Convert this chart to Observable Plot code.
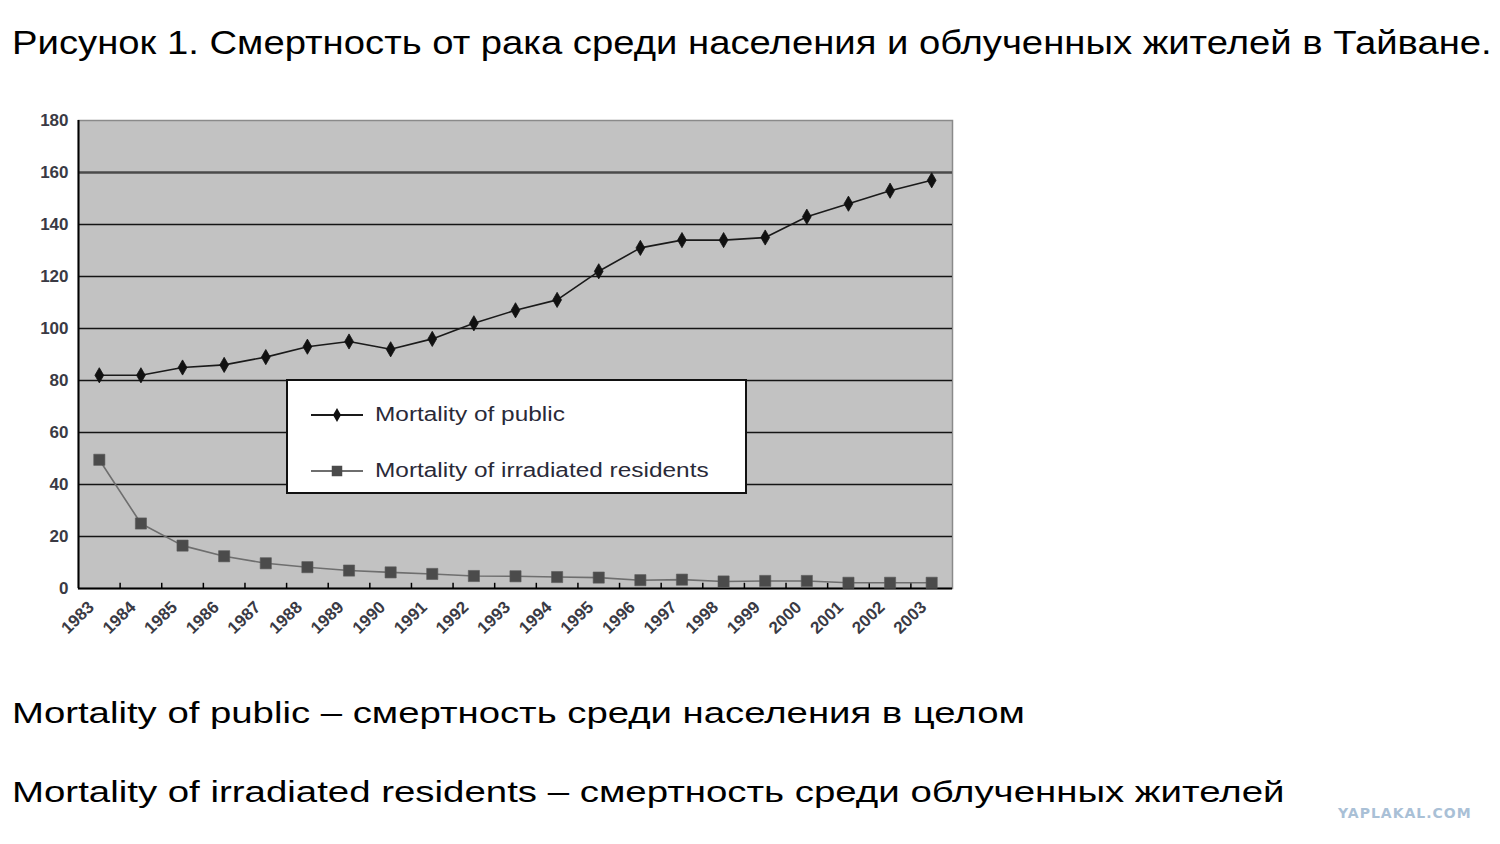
<!DOCTYPE html>
<html>
<head>
<meta charset="utf-8">
<script src="https://cdn.jsdelivr.net/npm/d3@7"></script>
<script src="https://cdn.jsdelivr.net/npm/@observablehq/plot@0.6"></script>
<style>
  html, body { margin: 0; padding: 0; background: #fff; }
  body { width: 1500px; height: 844px; position: relative; overflow: hidden;
         font-family: "Liberation Sans", Arial, sans-serif; }
  .txt { position: absolute; left: 12px; white-space: nowrap; line-height: 1; color: #000;
         transform-origin: 0 0; }
  #title { top: 26px; font-size: 33.5px; transform: scaleX(1.142); }
  #cap1 { top: 697.6px; font-size: 30px; transform: scaleX(1.277); }
  #cap2 { top: 776.6px; font-size: 30px; transform: scaleX(1.28); }
  #chart { position: absolute; left: 0; top: 100px; }
  #legend { position: absolute; left: 286px; top: 379px; width: 457px; height: 111px;
            background: #fff; border: 2px solid #111; box-sizing: content-box; }
  .lg-row { position: absolute; left: 22px; display: flex; align-items: center; }
  .lg-row span { display: inline-block; font-size: 20px; color: #2a2a38; margin-left: 11px;
                 transform: scaleX(1.22); transform-origin: 0 50%; }
  #wm { position: absolute; left: 1338px; top: 806px; font-family: "DejaVu Sans", sans-serif;
        font-weight: bold; font-size: 14px; color: #a9c0d6; letter-spacing: 1px; line-height: 1; }
</style>
</head>
<body>
<div id="title" class="txt">Рисунок 1. Смертность от рака среди населения и облученных жителей в Тайване.</div>
<div id="chart"></div>
<div id="legend"></div>
<div id="cap1" class="txt">Mortality of public – смертность среди населения в целом</div>
<div id="cap2" class="txt">Mortality of irradiated residents – смертность среди облученных жителей</div>
<div id="wm">YAPLAKAL.COM</div>
<script>
// ---- data ----
const years = [1983, 1984, 1985, 1986, 1987, 1988, 1989, 1990, 1991, 1992, 1993,
               1994, 1995, 1996, 1997, 1998, 1999, 2000, 2001, 2002, 2003];
const publicMortality = [82, 82, 85, 86, 89, 93, 95, 92, 96, 102, 107,
                         111, 122, 131, 134, 134, 135, 143, 148, 153, 157];
const irradiatedMortality = [49.5, 25, 16.5, 12.4, 9.7, 8.2, 6.9, 6.2, 5.6, 4.8, 4.7,
                             4.4, 4.2, 3.2, 3.4, 2.7, 2.9, 2.9, 2.2, 2.2, 2.2];
const yTicks = [0, 20, 40, 60, 80, 100, 120, 140, 160, 180];
const gridValues = [20, 40, 60, 80, 100, 120, 140, 160];
const seriesNames = ["Mortality of public", "Mortality of irradiated residents"];

// ---- derived tables ----
const pub = years.map((y, i) => ({year: y, value: publicMortality[i]}));
const irr = years.map((y, i) => ({year: y, value: irradiatedMortality[i]}));
const xDomain = [years[0] - 0.5, years[years.length - 1] + 0.5];
const boundaries = years.slice(1).map(y => y - 0.5);

const chart = Plot.plot({
  width: 1000,
  height: 560,
  marginLeft: 78,
  marginRight: 48,
  marginTop: 20,
  marginBottom: 72,
  style: {fontFamily: "'Liberation Sans', Arial, sans-serif", fontSize: "16px",
          fontWeight: "bold", color: "#3a3a44", background: "transparent"},
  x: {type: "linear", domain: xDomain, axis: null, label: null},
  y: {domain: [yTicks[0], yTicks[yTicks.length - 1]], axis: null, label: null},
  marks: [
    Plot.frame({fill: "#c2c2c2", stroke: "#8a8a8a", strokeWidth: 1.5}),
    Plot.ruleY(gridValues, {stroke: d => d === 160 ? "#4a4a4a" : "#151515",
                            strokeWidth: d => d === 160 ? 2.6 : 1.6}),
    Plot.ruleY([yTicks[0]], {stroke: "#000", strokeWidth: 2}),
    Plot.ruleX([xDomain[0]], {stroke: "#000", strokeWidth: 2}),
    Plot.ruleX(boundaries, {y1: 0, y2: 2, stroke: "#000", strokeWidth: 1.5}),
    Plot.axisY(yTicks, {tickSize: 0, tickPadding: 10, fontSize: 17, label: null}),
    Plot.axisX(years, {tickSize: 0, tickRotate: -44, tickPadding: 16, dx: -8, label: null,
                       tickFormat: d => String(d), textAnchor: "end", fontSize: 17}),
    Plot.line(irr, {x: "year", y: "value", stroke: "#6e6e6e", strokeWidth: 1.6}),
    Plot.dot(irr, {x: "year", y: "value", symbol: "square", r: 6.3, fill: "#4b4b4b", stroke: "#5a5a5a", strokeWidth: 0.6}),
    Plot.line(pub, {x: "year", y: "value", stroke: "#1a1a1a", strokeWidth: 1.6}),
    Plot.dot(pub, {x: "year", y: "value", symbol: "diamond", r: 4.6, fill: "#111", stroke: "#111", strokeWidth: 0.8})
  ]
});
document.getElementById("chart").appendChild(chart);

// ---- legend ----
const legend = document.getElementById("legend");
const ns = "http://www.w3.org/2000/svg";
function legendRow(name, top, kind) {
  const row = document.createElement("div");
  row.className = "lg-row";
  row.style.top = top + "px";
  const svg = document.createElementNS(ns, "svg");
  svg.setAttribute("width", 54);
  svg.setAttribute("height", 16);
  const line = document.createElementNS(ns, "line");
  line.setAttribute("x1", 1); line.setAttribute("x2", 53);
  line.setAttribute("y1", 8); line.setAttribute("y2", 8);
  line.setAttribute("stroke", kind === "diamond" ? "#1a1a1a" : "#6e6e6e");
  line.setAttribute("stroke-width", 1.8);
  svg.appendChild(line);
  const p = document.createElementNS(ns, "path");
  const sym = d3.symbol(kind === "diamond" ? d3.symbolDiamond : d3.symbolSquare,
                        kind === "diamond" ? 55 : 110);
  p.setAttribute("d", sym());
  p.setAttribute("transform", "translate(27,8)");
  p.setAttribute("fill", kind === "diamond" ? "#111" : "#4b4b4b");
  svg.appendChild(p);
  row.appendChild(svg);
  const s = document.createElement("span");
  s.textContent = name;
  row.appendChild(s);
  legend.appendChild(row);
}
legendRow(seriesNames[0], 22, "diamond");
legendRow(seriesNames[1], 78, "square");
</script>
</body>
</html>
